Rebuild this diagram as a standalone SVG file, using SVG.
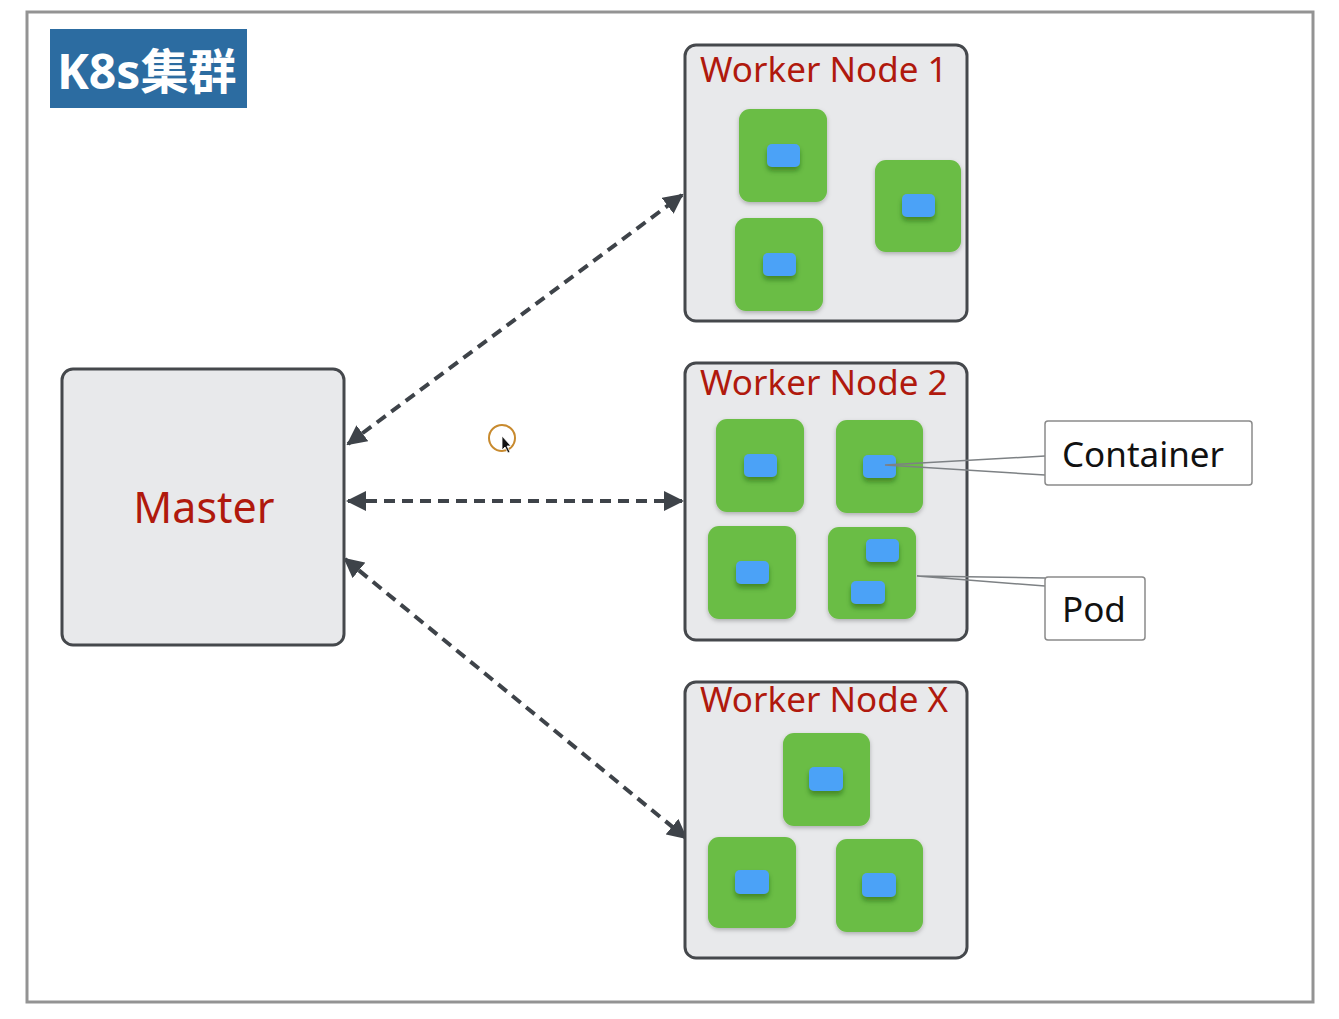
<svg xmlns="http://www.w3.org/2000/svg" width="1339" height="1019" viewBox="0 0 1339 1019">
<defs>
<style>
.frame{fill:#ffffff;stroke:#939393;stroke-width:3}
.node{fill:#e8e9eb;stroke:#45484c;stroke-width:3}
.lbl{font-family:"Noto Sans","Noto Sans CJK SC",sans-serif;fill:#b0190d}
.pod{fill:#6abd45;filter:url(#podsh)}
.ctr{fill:#4ca2f7;filter:url(#ctrsh)}
.conn{fill:none;stroke:#3e4349;stroke-width:4;stroke-dasharray:11 7;marker-start:url(#ah);marker-end:url(#ah)}
.call{fill:#ffffff;stroke:#8a8a8a;stroke-width:1.5}
.calltxt{font-family:"Noto Sans","Noto Sans CJK SC",sans-serif;font-size:35px;fill:#111111}
.leader{fill:none;stroke:#7d8184;stroke-width:1.5}
</style>
<marker id="ah" viewBox="0 0 10 10" refX="9" refY="5" markerWidth="5" markerHeight="5" orient="auto-start-reverse" markerUnits="strokeWidth">
<path d="M0,0 L10,5 L0,10 z" fill="#3e4349"/>
</marker>
<filter id="podsh" x="-20%" y="-20%" width="140%" height="140%">
<feDropShadow dx="0" dy="2" stdDeviation="2" flood-color="#000" flood-opacity="0.25"/>
</filter>
<filter id="ctrsh" x="-50%" y="-50%" width="200%" height="250%">
<feDropShadow dx="0" dy="4" stdDeviation="2.5" flood-color="#1d4a10" flood-opacity="0.45"/>
</filter>
</defs>

<rect class="frame" x="27" y="12" width="1286" height="990"/>

<g id="title">
<rect x="50" y="29" width="197" height="79" fill="#2c6ca1"/>
<text x="57" y="89" font-family="'Noto Sans','Noto Sans CJK SC',sans-serif" font-weight="bold" font-size="48" fill="#ffffff">K8s集群</text>
</g>

<g id="connectors">
<line class="conn" x1="348" y1="444" x2="682" y2="195"/>
<line class="conn" x1="348" y1="501" x2="682" y2="501"/>
<line class="conn" x1="345" y1="559" x2="686" y2="838"/>
</g>

<g id="master">
<rect class="node" x="62" y="369" width="282" height="276" rx="11"/>
<text class="lbl" x="204" y="523" font-size="43" text-anchor="middle">Master</text>
</g>

<g id="worker1">
<rect class="node" x="685" y="45" width="282" height="276" rx="11"/>
<text class="lbl" x="700" y="82" font-size="35">Worker Node 1</text>
<g id="w1p1"><rect class="pod" x="739" y="109" width="88" height="93" rx="11"/><rect class="ctr" x="767" y="144" width="33" height="23" rx="5"/></g>
<g id="w1p2"><rect class="pod" x="875" y="160" width="86" height="92" rx="11"/><rect class="ctr" x="902" y="194" width="33" height="23" rx="5"/></g>
<g id="w1p3"><rect class="pod" x="735" y="218" width="88" height="93" rx="11"/><rect class="ctr" x="763" y="253" width="33" height="23" rx="5"/></g>
</g>

<g id="worker2">
<rect class="node" x="685" y="363" width="282" height="277" rx="11"/>
<text class="lbl" x="700" y="395" font-size="35">Worker Node 2</text>
<g id="w2p1"><rect class="pod" x="716" y="419" width="88" height="93" rx="11"/><rect class="ctr" x="744" y="454" width="33" height="23" rx="5"/></g>
<g id="w2p2"><rect class="pod" x="836" y="420" width="87" height="93" rx="11"/><rect class="ctr" x="863" y="455" width="33" height="23" rx="5"/></g>
<g id="w2p3"><rect class="pod" x="708" y="526" width="88" height="93" rx="11"/><rect class="ctr" x="736" y="561" width="33" height="23" rx="5"/></g>
<g id="w2p4"><rect class="pod" x="828" y="527" width="88" height="92" rx="11"/><rect class="ctr" x="866" y="539" width="33" height="23" rx="5"/><rect class="ctr" x="851" y="581" width="34" height="23" rx="5"/></g>
</g>

<g id="workerX">
<rect class="node" x="685" y="682" width="282" height="276" rx="11"/>
<text class="lbl" x="700" y="712" font-size="35">Worker Node X</text>
<g id="wxp1"><rect class="pod" x="783" y="733" width="87" height="93" rx="11"/><rect class="ctr" x="809" y="767" width="34" height="24" rx="5"/></g>
<g id="wxp2"><rect class="pod" x="708" y="837" width="88" height="91" rx="11"/><rect class="ctr" x="735" y="870" width="34" height="24" rx="5"/></g>
<g id="wxp3"><rect class="pod" x="836" y="839" width="87" height="93" rx="11"/><rect class="ctr" x="862" y="873" width="34" height="24" rx="5"/></g>
</g>

<g id="callout-container">
<path class="leader" d="M1045,456 L885,465 L1045,475"/>
<rect class="call" x="1045" y="421" width="207" height="64" rx="3"/>
<text class="calltxt" x="1062" y="467">Container</text>
</g>

<g id="callout-pod">
<path class="leader" d="M1045,578 L917,576 L1045,586"/>
<rect class="call" x="1045" y="577" width="100" height="63" rx="3"/>
<text class="calltxt" x="1062" y="622">Pod</text>
</g>

<g id="cursor">
<circle cx="502" cy="438" r="13" fill="none" stroke="#c88a2e" stroke-width="2"/>
<path d="M502,436 L502,450 L505,447 L508,453 L510,452 L507,446 L511,446 z" fill="#111" stroke="#fff" stroke-width="0.8"/>
</g>
</svg>
